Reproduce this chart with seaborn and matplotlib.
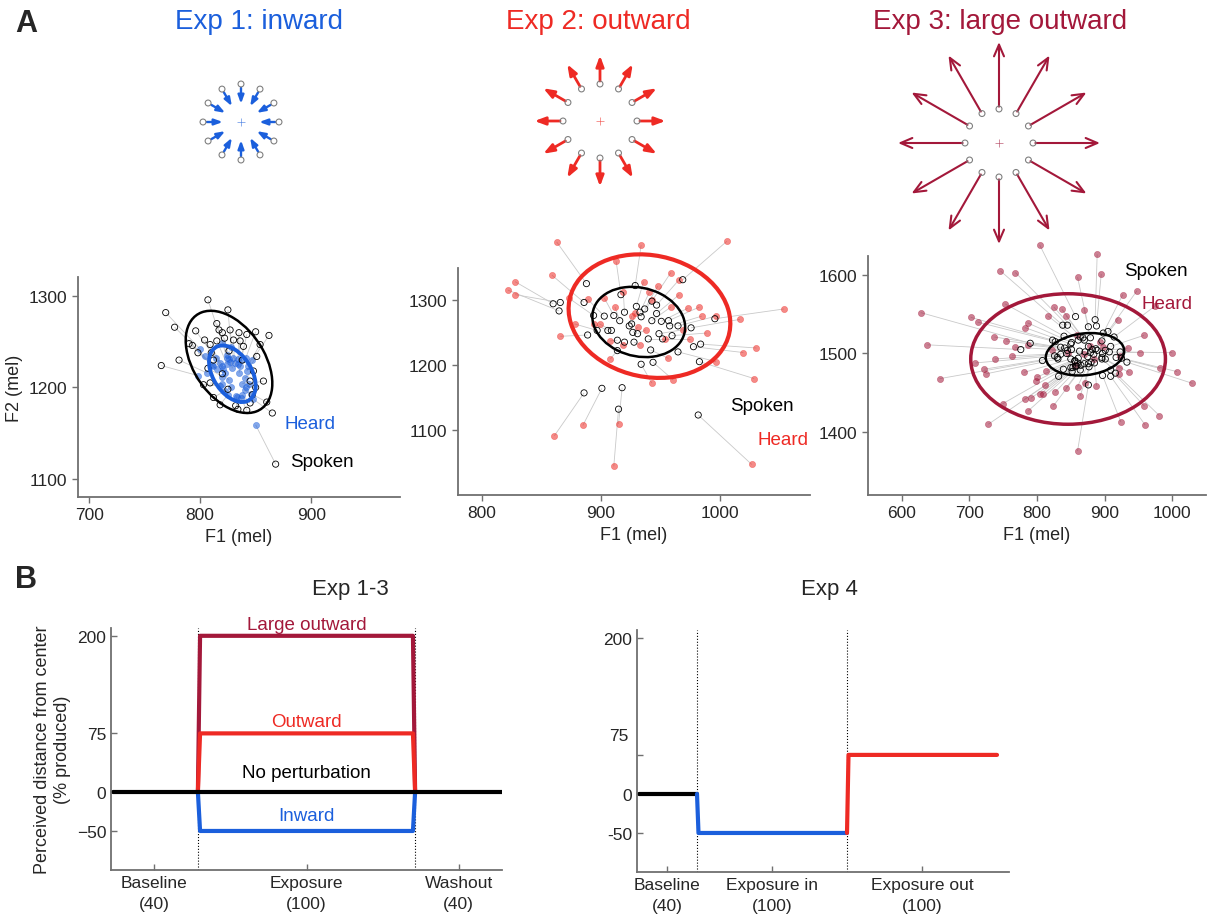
import numpy as np
import matplotlib
matplotlib.use("Agg")
import matplotlib.pyplot as plt
from matplotlib.patches import Ellipse
from matplotlib.collections import LineCollection
from matplotlib.transforms import blended_transform_factory
import seaborn as sns

BLUE = "#1b5fdc"
RED = "#ee2a24"
DARKRED = "#a3183a"
GRAY = "#707070"

# ---------------- data: panel A ----------------
arrow_angles = [0, 30, 60, 90, 120, 150, 180, 210, 240, 270, 300, 330]

# Exp 1 (inward), spoken vs heard formants (mel)
exp1_spoken_f1 = [807, 769, 825, 777, 765, 781, 862, 865, 868, 857, 860, 842, 834, 803, 812, 790, 793,
                  817, 820, 835, 850, 854, 851, 809, 810, 804, 815, 830, 836, 842, 822, 807, 809, 845,
                  847, 848, 832, 845, 818, 827, 839, 798, 815, 826, 838, 820, 812, 850, 825, 796]
exp1_spoken_f2 = [1296, 1282, 1285, 1266, 1224, 1230, 1257, 1172, 1116, 1207, 1184, 1175, 1176, 1203,
                  1189, 1248, 1246, 1263, 1260, 1260, 1261, 1247, 1234, 1247, 1238, 1252, 1251, 1252,
                  1251, 1258, 1254, 1221, 1205, 1207, 1192, 1218, 1180, 1183, 1181, 1263, 1245, 1238,
                  1270, 1240, 1230, 1215, 1230, 1200, 1198, 1262]
exp1_heard_f1 = [820, 800, 828, 804, 798, 806, 847, 848, 850, 844, 846, 837, 833, 818, 822, 811, 812,
                 824, 826, 834, 841, 843, 842, 820, 821, 818, 824, 831, 834, 837, 827, 820, 820, 838,
                 840, 840, 832, 838, 825, 830, 836, 815, 824, 829, 835, 826, 822, 841, 828, 814]
exp1_heard_f2 = [1249, 1242, 1244, 1234, 1213, 1216, 1230, 1187, 1159, 1204, 1193, 1188, 1189, 1202,
                 1196, 1225, 1224, 1232, 1231, 1231, 1232, 1224, 1218, 1224, 1220, 1227, 1226, 1227,
                 1226, 1230, 1228, 1212, 1204, 1204, 1197, 1210, 1191, 1192, 1192, 1232, 1224, 1220,
                 1236, 1221, 1216, 1208, 1216, 1201, 1200, 1232]

# Exp 2 (outward)
exp2_spoken_f1 = [860, 866, 865, 888, 886, 889, 886, 901, 918, 915, 982, 969, 996, 984, 978, 983, 965,
                  944, 934, 942, 929, 917, 894, 903, 897, 906, 909, 911, 920, 924, 930, 933, 937, 943,
                  947, 951, 957, 958, 965, 976, 926, 931, 914, 920, 928, 940, 949, 952, 914, 934, 943,
                  916, 927, 947, 960]
exp2_spoken_f2 = [1294, 1296, 1283, 1325, 1296, 1246, 1157, 1164, 1165, 1132, 1123, 1331, 1271, 1232,
                  1228, 1205, 1220, 1204, 1201, 1223, 1322, 1308, 1276, 1275, 1253, 1253, 1253, 1276,
                  1281, 1260, 1290, 1281, 1286, 1298, 1292, 1267, 1268, 1260, 1260, 1257, 1263, 1248,
                  1238, 1235, 1235, 1240, 1248, 1240, 1222, 1274, 1268, 1268, 1250, 1279, 1245]
exp2_heard_f1 = [828, 828, 822, 863, 859, 866, 861, 885, 915, 911, 1027, 1006, 1054, 1031, 1020, 1029,
                 997, 961, 943, 957, 934, 913, 873, 889, 878, 894, 899, 903, 919, 926, 936, 941, 948,
                 959, 966, 973, 983, 985, 997, 1017, 929, 938, 908, 919, 933, 954, 969, 975, 908, 943,
                 959, 912, 931, 966, 989]
exp2_heard_f2 = [1328, 1308, 1315, 1389, 1338, 1244, 1091, 1107, 1109, 1044, 1047, 1390, 1286, 1226,
                 1219, 1179, 1205, 1177, 1172, 1210, 1384, 1359, 1303, 1301, 1263, 1263, 1263, 1303,
                 1312, 1275, 1328, 1312, 1321, 1342, 1331, 1287, 1289, 1275, 1275, 1270, 1280, 1254,
                 1237, 1231, 1231, 1240, 1254, 1240, 1209, 1300, 1289, 1289, 1258, 1308, 1249]

# Exp 3 (large outward)
exp3_spoken_f1 = [857, 886, 888, 876, 838, 845, 905, 914, 898, 840, 790, 823, 827, 864, 868, 870, 861,
                  851, 850, 879, 896, 909, 835, 841, 845, 851, 776, 901, 907, 923, 835, 844, 826, 830,
                  831, 808, 850, 856, 856, 860, 865, 870, 876, 880, 877, 850, 853, 857, 859, 864, 852,
                  839, 832, 897, 909, 916, 909, 901, 896, 917, 925, 933, 876, 885, 896, 889, 887, 882,
                  879, 871, 875, 863, 861, 884, 876, 897]
exp3_spoken_f2 = [1547, 1543, 1535, 1534, 1536, 1536, 1528, 1521, 1526, 1522, 1513, 1517, 1515, 1521,
                  1520, 1517, 1517, 1514, 1512, 1520, 1516, 1509, 1508, 1507, 1504, 1505, 1505, 1504,
                  1502, 1502, 1499, 1500, 1497, 1495, 1493, 1491, 1493, 1491, 1490, 1488, 1485, 1487,
                  1487, 1489, 1483, 1482, 1482, 1484, 1484, 1479, 1477, 1480, 1471, 1472, 1471, 1475,
                  1479, 1493, 1493, 1495, 1494, 1489, 1460, 1488, 1495, 1504, 1506, 1505, 1501, 1502,
                  1496, 1503, 1494, 1499, 1509, 1500]
exp3_heard_f1 = [804, 889, 895, 860, 746, 768, 948, 974, 927, 753, 628, 702, 712, 825, 837, 843, 816,
                 786, 782, 870, 920, 958, 737, 754, 767, 786, 638, 935, 952, 1000, 738, 763, 709, 722,
                 724, 656, 781, 800, 799, 812, 827, 843, 860, 871, 864, 782, 791, 804, 809, 824, 787,
                 749, 728, 924, 960, 981, 959, 936, 921, 982, 1007, 1030, 860, 888, 921, 898, 893, 879,
                 869, 846, 856, 822, 814, 884, 859, 923]
exp3_heard_f2 = [1638, 1626, 1601, 1597, 1605, 1603, 1580, 1560, 1575, 1563, 1552, 1546, 1540, 1559,
                 1556, 1548, 1548, 1539, 1533, 1555, 1543, 1523, 1521, 1516, 1508, 1511, 1511, 1507,
                 1501, 1501, 1493, 1497, 1488, 1480, 1474, 1468, 1476, 1470, 1465, 1460, 1451, 1456,
                 1458, 1462, 1446, 1442, 1443, 1448, 1448, 1433, 1427, 1436, 1410, 1413, 1409, 1421,
                 1433, 1476, 1474, 1481, 1477, 1462, 1376, 1459, 1482, 1508, 1514, 1510, 1499, 1501,
                 1485, 1504, 1478, 1493, 1523, 1497]

# distribution ellipses: center f1, center f2, f1 half-range, f2 half-range, correlation
exp1_spoken_ell = (826, 1228, 39, 56, -0.42)
exp1_heard_ell = (829, 1215, 21, 31, -0.42)
exp2_spoken_ell = (932, 1266, 39, 54, -0.15)
exp2_heard_ell = (941, 1275, 68, 95, -0.12)
exp3_spoken_ell = (871, 1499, 58, 27, 0.15)
exp3_heard_ell = (846, 1493, 144, 83, 0.0)

# ---------------- data: panel B ----------------
exp13_large_x = [40, 41, 139, 140]
exp13_large_y = [0, 200, 200, 0]
exp13_out_x = [40, 41, 139, 140]
exp13_out_y = [0, 75, 75, 0]
exp13_in_x = [40, 41, 139, 140]
exp13_in_y = [0, -50, -50, 0]
exp13_none_x = [1, 180]
exp13_none_y = [0, 0]
exp13_phase_edges = [40, 140]
exp13_tick_pos = [20, 90, 160]
exp13_tick_labels = ["Baseline\n(40)", "Exposure\n(100)", "Washout\n(40)"]

exp4_base_x = [1, 40]
exp4_base_y = [0, 0]
exp4_in_x = [40, 41, 140]
exp4_in_y = [0, -50, -50]
exp4_out_x = [140, 141, 240]
exp4_out_y = [-50, 50, 50]
exp4_phase_edges = [40, 140]
exp4_tick_pos = [20, 90, 190]
exp4_tick_labels = ["Baseline\n(40)", "Exposure in\n(100)", "Exposure out\n(100)"]

sns.set_style("ticks")
plt.rcParams["font.family"] = ["Liberation Sans", "DejaVu Sans"]

W, H = 1231, 920
fig = plt.figure(figsize=(W / 100, H / 100), dpi=100)


def px_axes(left, top, right, bottom):
    return fig.add_axes([left / W, 1 - bottom / H, (right - left) / W, (bottom - top) / H])


def add_ellipse(ax, params, color, lw):
    cx, cy, rx, ry, rho = params
    cov = np.array([[rx ** 2, rho * rx * ry], [rho * rx * ry, ry ** 2]])
    vals, vecs = np.linalg.eigh(cov)
    angle = np.degrees(np.arctan2(vecs[1, 1], vecs[0, 1]))
    ax.add_patch(Ellipse((cx, cy), 2 * np.sqrt(vals[1]), 2 * np.sqrt(vals[0]), angle=angle,
                         fill=False, edgecolor=color, lw=lw, zorder=5, clip_on=False))


def style_axes(ax, direction):
    sns.despine(ax=ax)
    for s in ["left", "bottom"]:
        ax.spines[s].set_color(GRAY)
        ax.spines[s].set_linewidth(1.3)
    ax.tick_params(direction=direction, color=GRAY, labelsize=12.5, length=4, width=1)


def draw_diagram(cx, cy, half, radius_px, start, tip, color, arrowstyle, lw, mscale):
    ax = px_axes(cx - half, cy - half, cx + half, cy + half)
    lim = half / radius_px
    ax.set_xlim(-lim, lim)
    ax.set_ylim(-lim, lim)
    ax.axis("off")
    ang = np.radians(arrow_angles)
    ux, uy = np.cos(ang), np.sin(ang)
    for x, y in zip(ux, uy):
        ax.annotate("", xy=(tip * x, tip * y), xytext=(start * x, start * y),
                    arrowprops=dict(arrowstyle=arrowstyle, color=color, lw=lw,
                                    mutation_scale=mscale, shrinkA=0, shrinkB=0))
    ax.scatter(ux, uy, s=18, facecolors="none", edgecolors="#808080", linewidths=0.8, zorder=3)
    ax.plot(0, 0, marker="+", color=color, ms=6, mew=0.5, alpha=0.7)


def draw_scatter(ax, sf1, sf2, hf1, hf2, color, ell_s, ell_h, lw_h):
    segs = [[(a, b), (c, d)] for a, b, c, d in zip(sf1, sf2, hf1, hf2)]
    lc = LineCollection(segs, colors="#c9c9c9", linewidths=0.6, zorder=1)
    lc.set_clip_on(False)
    ax.add_collection(lc)
    sns.scatterplot(x=hf1, y=hf2, ax=ax, s=20, color=color, alpha=0.55,
                    edgecolor=color, linewidth=0.4, zorder=3, legend=False)
    sns.scatterplot(x=sf1, y=sf2, ax=ax, s=20, marker="o", zorder=4, legend=False)
    spoken = ax.collections[-1]
    spoken.set_facecolor("none")
    spoken.set_edgecolor("black")
    spoken.set_linewidth(0.6)
    for c in ax.collections:
        c.set_clip_on(False)
    add_ellipse(ax, ell_s, "black", 1.8)
    add_ellipse(ax, ell_h, color, lw_h)


# ---------------- panel A ----------------
fig.text(26 / W, 1 - 24 / H, "A", fontsize=22, fontweight="bold", ha="center", va="center")
fig.text(259 / W, 1 - 22 / H, "Exp 1: inward", color=BLUE, fontsize=20, ha="center", va="center")
fig.text(598 / W, 1 - 22 / H, "Exp 2: outward", color=RED, fontsize=20, ha="center", va="center")
fig.text(1000 / W, 1 - 22 / H, "Exp 3: large outward", color=DARKRED, fontsize=20,
         ha="center", va="center")

draw_diagram(241, 123, 50, 38, 0.9, 0.48, BLUE, "-|>,head_length=0.6,head_width=0.22", 1.7, 8)
draw_diagram(600, 122, 80, 37, 1.08, 1.77, RED, "-|>,head_length=0.7,head_width=0.26", 2.0, 9)
draw_diagram(999, 144, 115, 34, 1.07, 2.97, DARKRED, "->,head_length=0.7,head_width=0.3", 1.5, 12)

ax1 = px_axes(78, 278, 400, 498)
draw_scatter(ax1, exp1_spoken_f1, exp1_spoken_f2, exp1_heard_f1, exp1_heard_f2,
             BLUE, exp1_spoken_ell, exp1_heard_ell, 2.8)
ax1.set_xlim(690, 980)
ax1.set_ylim(1080, 1321)
ax1.set_xticks([700, 800, 900])
ax1.set_yticks([1100, 1200, 1300])
ax1.text(876, 1160, "Heard", color=BLUE, fontsize=13.5, va="center")
ax1.text(881, 1119, "Spoken", color="black", fontsize=13.5, va="center")
ax1.set_ylabel("F2 (mel)", fontsize=13)

ax2 = px_axes(458, 269, 810, 496)
draw_scatter(ax2, exp2_spoken_f1, exp2_spoken_f2, exp2_heard_f1, exp2_heard_f2,
             RED, exp2_spoken_ell, exp2_heard_ell, 3.0)
ax2.set_xlim(780, 1076)
ax2.set_ylim(1000, 1349)
ax2.set_xticks([800, 900, 1000])
ax2.set_yticks([1100, 1200, 1300])
ax2.text(1009, 1137, "Spoken", color="black", fontsize=13.5, va="center")
ax2.text(1032, 1085, "Heard", color=RED, fontsize=13.5, va="center")

ax3 = px_axes(868, 257, 1206, 496)
draw_scatter(ax3, exp3_spoken_f1, exp3_spoken_f2, exp3_heard_f1, exp3_heard_f2,
             DARKRED, exp3_spoken_ell, exp3_heard_ell, 2.5)
ax3.set_xlim(550, 1050)
ax3.set_ylim(1320, 1624)
ax3.set_xticks([600, 700, 800, 900, 1000])
ax3.set_yticks([1400, 1500, 1600])
ax3.text(929, 1606, "Spoken", color="black", fontsize=13.5, va="center")
ax3.text(955, 1563, "Heard", color=DARKRED, fontsize=13.5, va="center")

for ax in (ax1, ax2, ax3):
    style_axes(ax, "out")
    ax.set_xlabel("F1 (mel)", fontsize=13)

# ---------------- panel B ----------------
fig.text(26 / W, 1 - 580 / H, "B", fontsize=22, fontweight="bold", ha="center", va="center")
fig.text(350 / W, 1 - 590 / H, "Exp 1-3", fontsize=16, ha="center", va="center")
fig.text(829 / W, 1 - 590 / H, "Exp 4", fontsize=16, ha="center", va="center")

axb = px_axes(111, 629, 502, 871)
for xs, ys, col in [(exp13_large_x, exp13_large_y, DARKRED), (exp13_out_x, exp13_out_y, RED),
                    (exp13_in_x, exp13_in_y, BLUE), (exp13_none_x, exp13_none_y, "black")]:
    sns.lineplot(x=xs, y=ys, ax=axb, color=col, lw=3, sort=False, estimator=None)
for e in exp13_phase_edges:
    axb.axvline(e, color="black", ls=":", lw=0.8, zorder=0)
axb.set_xlim(0, 180)
axb.set_ylim(-100, 210)
axb.set_yticks([-50, 0, 75, 200])
axb.set_xticks(exp13_tick_pos, exp13_tick_labels)
axb.text(90, 203, "Large outward", color=DARKRED, fontsize=13.5, ha="center", va="bottom")
axb.text(90, 79, "Outward", color=RED, fontsize=13.5, ha="center", va="bottom")
axb.text(90, 14, "No perturbation", color="black", fontsize=13.5, ha="center", va="bottom")
axb.text(90, -30, "Inward", color=BLUE, fontsize=13.5, ha="center", va="center")
axb.set_ylabel("Perceived distance from center\n(% produced)", fontsize=13)

axc = px_axes(637, 631, 1009, 873)
for xs, ys, col in [(exp4_base_x, exp4_base_y, "black"), (exp4_in_x, exp4_in_y, BLUE),
                    (exp4_out_x, exp4_out_y, RED)]:
    sns.lineplot(x=xs, y=ys, ax=axc, color=col, lw=3, sort=False, estimator=None)
for e in exp4_phase_edges:
    axc.axvline(e, color="black", ls=":", lw=0.8, zorder=0)
axc.set_xlim(0, 248)
axc.set_ylim(-100, 210)
axc.set_yticks([-50, 0, 50, 200], ["-50", "0", "", "200"])
axc.set_xticks(exp4_tick_pos, exp4_tick_labels)
trans = blended_transform_factory(axc.transAxes, axc.transData)
axc.text(-0.022, 75, "75", transform=trans, fontsize=12.5, ha="right", va="center")

for ax in (axb, axc):
    style_axes(ax, "in")
    for lab in ax.get_xticklabels():
        lab.set_linespacing(1.55)

fig.savefig("out.png", dpi=100)
